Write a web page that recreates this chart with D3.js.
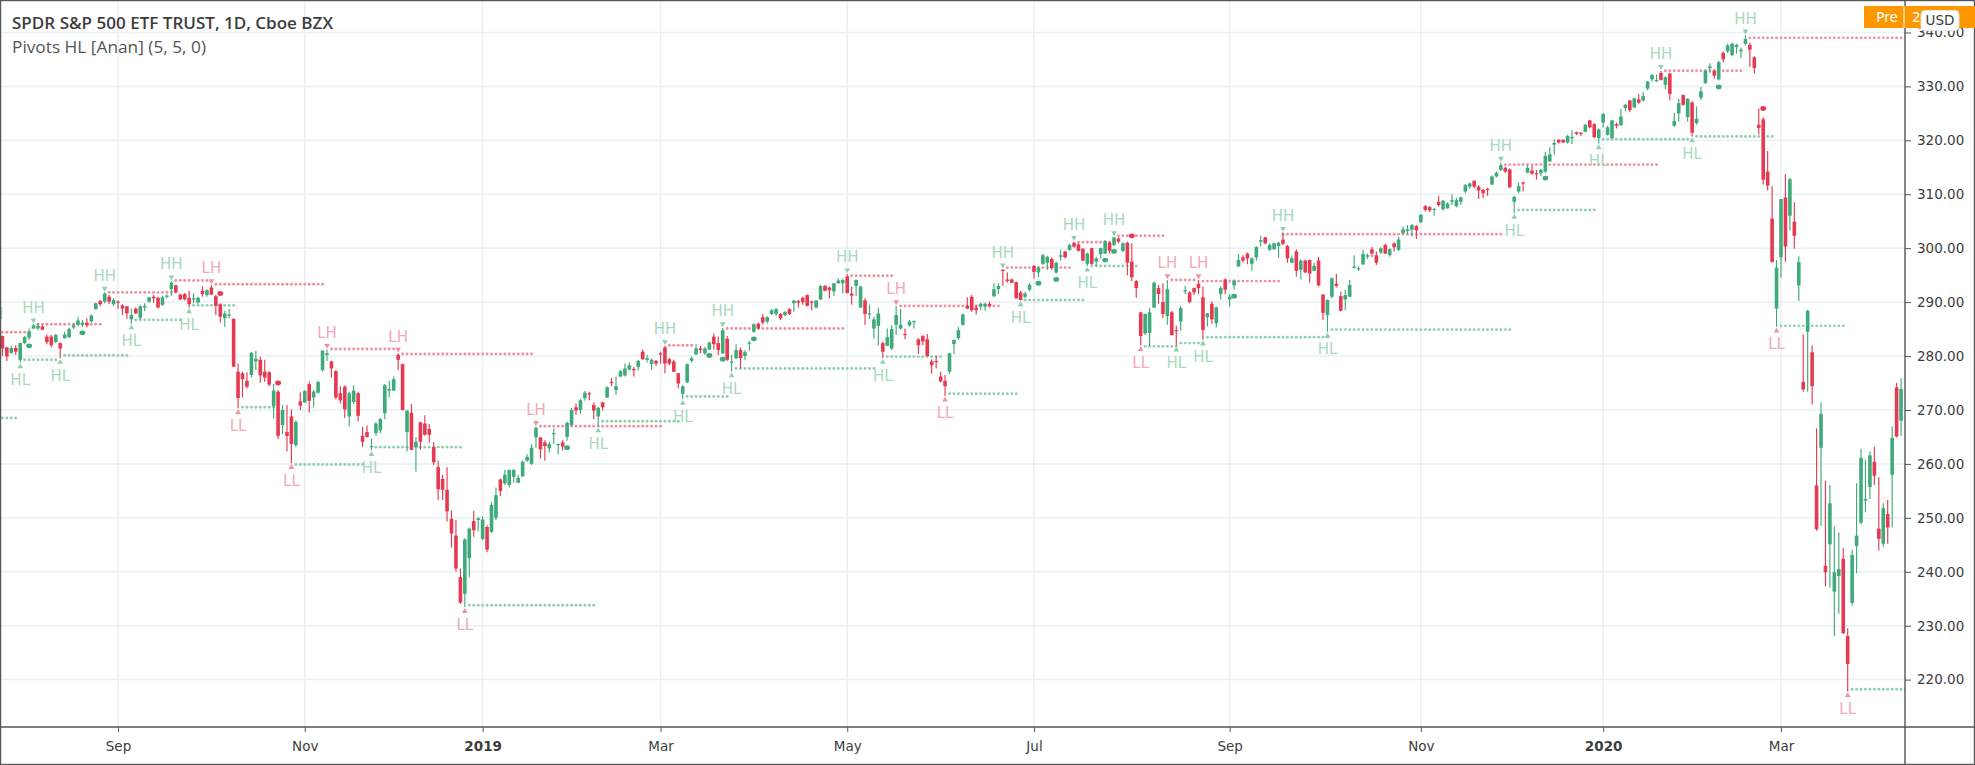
<!DOCTYPE html>
<html><head><meta charset="utf-8">
<script src="https://cdn.jsdelivr.net/npm/d3@7/dist/d3.min.js"></script>
<style>html,body{margin:0;padding:0;background:#fff}svg{display:block}</style>
</head><body><div id="c"></div>
<script>
// Each row: [open, high, low, close]
const bars2018a=[
[283.7,283.8,280.0,281.4],[281.6,281.7,279.1,279.9],[280.6,281.9,280.4,281.5],[281.5,282.0,280.2,280.8],[279.3,282.5,278.8,282.4],[282.4,283.7,282.2,283.5],[283.4,285.1,283.0,284.6],[285.1,285.9,285.0,285.7],[285.1,286.1,284.8,285.6],[285.5,285.7,284.8,284.9],
[283.6,284.0,282.2,282.6],[283.6,283.9,281.6,282.0],[282.6,284.1,282.4,283.9],[282.4,282.5,279.6,281.4],[283.3,284.5,283.2,284.0],[283.5,285.3,283.3,285.0],[285.3,286.1,285.0,285.7],[285.8,287.3,285.6,286.6],[285.8,286.7,285.4,286.2],[286.2,287.0,285.3,285.7],
[286.4,287.7,286.2,287.5],[288.7,289.9,288.6,289.8],[290.2,290.4,289.3,289.6],[290.1,291.8,289.8,291.6],[291.0,291.3,289.6,290.1],[289.6,290.7,289.3,290.4],[290.1,290.3,288.7,289.9],[289.4,289.6,287.6,288.8],[289.2,289.3,286.9,287.9],[286.8,288.8,286.0,287.6],
[288.8,289.0,287.8,287.9],[287.1,289.5,286.7,289.2],[289.0,289.8,288.3,289.3],[290.1,291.0,289.9,290.9],[291.0,291.3,289.9,290.7],[290.8,291.0,288.8,289.0],[289.5,291.2,289.3,290.9],[291.0,291.4,290.7,291.2],[292.4,293.9,291.2,293.6],[293.1,293.2,291.6,291.8],
[291.4,291.5,290.4,290.5],[291.5,291.7,290.3,290.5],[290.8,292.1,289.0,289.6],[290.5,291.6,289.8,290.7],[289.9,291.0,289.7,290.8],[292.1,292.9,291.0,291.5],[291.3,292.4,291.0,292.2],[292.7,293.2,291.3,291.4],[291.1,291.3,287.6,289.3],[289.6,289.8,286.2,287.3],
[287.0,288.4,285.4,287.9],[287.5,288.7,287.0,287.7],[286.9,287.0,278.0,278.0],[277.1,278.6,270.3,272.2]];
const bars2018b=[
[276.8,277.1,272.3,275.7],[275.4,277.0,274.0,274.3],[276.5,280.8,276.0,280.6],[279.0,281.0,277.4,279.5],[279.3,279.9,275.0,276.4],[277.1,279.3,275.2,276.0],[277.0,277.2,274.4,274.7],[270.7,274.8,268.4,273.6],[273.4,273.7,264.6,265.2],[267.2,270.9,265.5,270.0],
[265.9,270.9,262.3,265.2],[268.8,270.1,260.1,263.7],[263.5,268.1,263.1,267.8],[271.6,273.3,270.0,270.8],[271.4,273.7,271.4,273.5],[274.8,275.3,269.5,271.7],[272.3,273.7,270.5,273.4],[273.2,275.4,273.0,275.2],[277.4,281.1,277.1,281.0],[280.2,281.2,279.1,280.5],
[279.0,279.1,276.0,277.7],[277.2,277.4,272.0,272.3],[273.1,274.4,271.2,271.8],[274.3,274.6,268.5,270.1],[268.8,273.4,267.0,273.1],[271.5,274.6,271.1,273.6],[273.1,273.4,267.9,268.9],[265.2,266.9,263.1,264.1],[265.9,267.1,264.9,265.0],[263.2,264.7,262.5,263.3],
[265.7,267.7,265.2,267.5],[266.2,268.5,265.7,268.3],[269.4,274.8,268.3,274.6],[273.6,275.4,272.3,273.9],[273.6,276.2,273.5,275.7],[280.2,280.5,277.4,279.3],[278.5,278.6,269.9,270.0],[265.9,269.9,262.3,269.9],[269.5,271.1,262.6,262.6],[263.1,265.0,258.6,264.1],
[267.7,267.8,262.6,264.1],[267.5,269.0,265.2,265.4],[266.5,267.4,263.9,265.4],[263.1,264.0,259.8,260.3],[259.4,260.6,253.3,255.3],[257.2,258.0,253.3,255.2],[255.2,259.4,249.3,251.2],[249.8,251.4,244.5,247.1],[246.7,249.6,240.0,240.6],[239.0,240.6,234.0,234.3],
[235.9,246.2,233.4,246.0],[242.5,248.2,239.0,248.0],[249.4,251.3,246.5,247.7],[249.6,250.2,247.5,249.9]];
const bars2019a=[
[246.1,250.3,245.9,249.7],[248.3,248.6,243.6,244.1],[247.4,252.9,247.2,252.4],[250.0,255.6,249.6,254.2],[257.1,257.3,254.0,255.0],[256.4,258.9,256.1,258.0],[256.1,258.9,255.6,258.9],[257.6,259.0,256.5,258.9],[256.5,258.0,256.5,257.4],[257.7,260.6,257.5,260.4],
[260.6,261.8,260.4,261.3],[260.0,263.7,259.8,263.0],[264.9,266.9,262.9,266.7],[264.9,265.0,261.0,262.7],[264.0,264.4,260.6,263.3],[262.9,264.1,262.1,263.7],[265.6,266.6,263.7,265.7],[263.5,263.8,261.8,263.7],[264.0,264.4,262.5,263.2],[265.0,267.8,264.3,267.6],
[267.2,270.4,267.0,270.0],[270.5,271.2,269.1,269.9],[270.0,272.0,269.3,271.8],[272.2,273.5,271.7,273.2],[273.1,273.4,271.8,272.9],[270.9,271.4,268.3,269.9],[268.8,270.6,266.9,270.4],[271.4,271.5,269.9,270.5],[272.3,274.4,272.2,274.2],[275.2,275.9,274.4,275.1],
[273.7,276.2,272.8,274.4],[276.2,277.4,276.1,277.2],[276.4,278.6,276.2,277.7],[277.5,278.8,277.3,278.3],[277.6,278.0,276.2,277.4],[278.0,279.3,277.3,279.1],[280.8,281.2,279.3,279.4],[279.3,280.2,278.8,279.6],[278.5,279.6,277.4,279.3],[279.1,279.3,278.2,278.6],
[280.5,280.8,278.6,280.4],[281.6,281.9,276.8,278.6],[279.4,279.7,278.3,278.6],[279.0,279.3,277.0,277.1],[276.8,276.9,274.0,274.9],[273.0,274.6,272.0,274.4],[275.1,278.6,275.0,278.5],[279.1,279.9,278.8,279.6],[280.3,282.2,280.2,281.4],[281.4,281.9,280.5,281.1],
[280.5,281.7,280.2,281.4],[281.2,282.7,281.1,282.5],[283.6,284.2,281.2,282.2],[282.4,283.6,280.2,281.1]];
const bars2019b=[
[280.5,285.2,280.4,284.8],[283.2,283.7,279.1,279.3],[278.8,280.2,277.1,279.0],[279.6,282.2,279.4,281.1],[281.1,281.6,277.7,279.6],[280.0,281.1,279.3,280.7],[282.3,282.8,281.0,282.5],[284.5,286.1,284.3,285.9],[286.0,286.2,285.0,285.1],[287.2,287.8,285.8,286.2],
[286.4,287.4,286.0,287.2],[287.8,288.7,287.6,288.5],[287.8,288.9,287.4,288.7],[287.8,288.0,286.7,287.0],[287.6,288.3,287.4,288.2],[288.7,288.9,287.6,287.8],[289.8,290.4,288.2,290.3],[290.2,290.4,289.0,289.9],[290.8,291.0,289.5,290.0],[291.3,291.4,289.2,289.3],
[290.1,290.3,288.5,290.0],[289.0,290.4,288.8,290.3],[290.5,293.2,290.4,293.0],[293.0,293.2,292.0,292.1],[292.7,292.9,290.7,292.2],[292.0,293.6,291.1,293.5],[293.5,294.4,293.4,294.0],[293.5,294.4,291.6,294.1],[294.8,295.2,291.6,291.7],[291.6,292.9,289.5,291.2],
[293.0,294.2,291.1,294.1],[289.0,293.0,288.9,292.9],[290.3,290.7,285.8,287.8],[287.8,289.5,286.9,287.9],[285.1,287.3,283.2,286.8],[285.6,288.9,282.0,287.9],[282.4,282.7,279.6,280.8],[281.9,285.1,281.8,283.5],[281.4,285.7,281.1,285.0],[285.8,289.3,283.9,287.6],
[285.1,288.7,284.9,285.8],[284.1,285.1,283.1,283.9],[285.7,286.7,285.4,286.4],[286.4,286.6,285.1,286.5],[283.1,283.3,280.4,282.0],[283.7,283.9,282.0,282.7],[283.1,284.1,279.9,280.0],[279.0,279.4,276.7,278.3],[279.1,280.0,277.7,279.0],[276.2,277.1,275.1,275.3],
[275.4,276.5,272.6,274.4],[277.1,280.6,276.7,280.5],[282.2,283.0,280.4,283.0],[283.3,285.4,283.0,284.8]];
const bars2019c=[
[285.8,287.9,285.6,287.7],[289.3,290.9,288.7,288.8],[291.0,291.3,288.2,288.5],[289.0,289.5,287.7,288.5],[289.2,289.9,288.5,289.7],[289.2,289.9,288.4,289.7],[289.7,290.1,289.0,289.3],[291.1,293.5,290.9,292.4],[292.4,293.5,291.5,293.0],[296.0,296.1,293.0,295.9],
[294.2,295.5,293.6,293.9],[294.2,294.4,293.5,293.6],[293.7,293.8,290.6,290.7],[291.8,292.1,290.3,290.4],[291.0,291.9,290.7,291.6],[292.3,293.5,292.0,293.2],[296.7,296.9,294.4,295.6],[295.5,296.6,294.6,296.4],[297.1,298.9,296.9,298.7],[297.3,298.6,296.0,298.4],
[298.0,298.3,296.0,296.3],[295.5,297.5,295.3,297.3],[298.4,299.7,297.7,298.7],[299.4,299.5,298.1,298.3],[299.7,300.8,299.5,300.6],[301.0,301.2,300.1,300.3],[300.7,300.9,299.4,299.5],[299.9,300.0,297.6,297.7],[297.1,299.2,296.7,299.0],[300.0,300.1,296.9,297.1],
[297.5,298.4,296.7,298.1],[298.9,300.1,298.1,300.0],[299.0,301.5,298.9,301.3],[301.0,301.2,299.0,299.5],[300.6,302.1,300.4,302.0],[301.8,302.0,300.9,301.2],[299.5,301.1,299.3,300.9],[301.0,301.2,295.0,297.3],[297.5,300.9,293.9,294.6],[293.9,294.1,290.8,292.6],
[288.1,288.2,282.0,283.7],[284.2,287.9,283.9,287.8],[284.3,288.9,281.8,288.1],[289.0,293.8,288.9,293.6],[292.6,293.2,289.7,291.5],[290.0,293.5,287.0,287.8],[287.4,294.1,285.8,292.4],[288.1,288.4,283.8,283.9],[284.8,285.6,281.9,284.7],[286.4,289.3,284.7,288.9],
[292.0,293.0,291.5,292.2],[291.8,292.0,289.8,290.0],[292.6,292.7,291.3,291.8],[293.4,294.1,291.5,292.6]];
const bars2019d=[
[290.9,292.9,283.0,284.8],[287.2,288.0,285.5,287.9],[289.7,290.1,286.0,286.8],[286.1,289.2,285.3,289.0],[291.5,293.0,290.5,292.6],[294.2,294.4,291.5,292.3],[290.5,291.5,289.2,291.0],[293.1,294.2,292.3,294.0],[296.6,298.9,296.5,297.8],[298.3,298.7,297.3,297.7],
[299.0,299.2,297.0,298.1],[297.1,298.3,295.8,298.1],[298.3,300.4,297.7,300.2],[301.2,302.3,300.3,301.5],[302.0,302.1,300.7,300.9],[299.7,300.9,299.5,300.6],[299.8,301.0,299.7,300.9],[300.4,301.2,298.2,301.0],[301.6,302.9,300.6,300.8],[300.4,300.6,297.3,298.1],
[297.3,298.7,297.2,298.1],[299.4,299.8,294.7,295.8],[296.0,297.9,294.2,297.7],[297.7,297.9,295.4,295.5],[297.8,297.9,293.6,295.3],[295.8,297.3,295.7,296.7],[297.7,298.4,292.9,293.1],[291.4,291.5,286.7,288.0],[287.6,290.5,284.5,290.4],[291.0,294.6,290.7,294.4],
[293.4,295.2,292.7,293.0],[291.1,291.9,288.3,288.4],[290.5,292.3,288.5,291.3],[291.0,294.1,290.9,293.2],[296.4,298.7,296.2,296.6],[296.2,296.6,295.8,296.3],[297.0,299.7,296.9,298.9],[298.4,299.0,298.0,298.7],[299.8,300.2,298.3,299.0],[298.7,299.4,296.9,297.3],
[299.2,300.2,298.9,300.0],[300.6,300.8,298.9,299.0],[298.7,300.0,298.4,299.8],[300.9,301.1,299.4,300.2],[299.7,302.1,299.5,301.6],[302.8,304.0,302.6,303.5],[303.2,304.3,302.5,303.5],[303.4,304.5,302.1,304.3],[304.1,304.3,301.7,303.3],[304.8,306.3,304.7,306.2],
[307.8,308.0,306.8,307.1],[307.6,307.8,306.7,307.0],[307.2,307.4,306.0,307.3],[308.6,309.7,307.7,308.0]];
const bars2020a=[
[307.2,309.0,307.0,308.8],[307.4,308.5,307.3,308.3],[308.6,310.0,308.0,308.9],[307.8,309.3,307.6,308.9],[308.6,309.6,308.0,309.4],[310.5,311.9,310.2,311.7],[311.4,312.2,311.0,312.0],[312.5,312.6,311.1,311.4],[311.4,311.7,309.1,310.7],[310.8,311.0,309.3,310.2],
[311.0,311.2,309.7,310.8],[311.8,313.5,311.7,313.3],[313.3,314.2,313.1,314.0],[314.5,315.9,314.3,315.4],[314.9,315.1,314.0,314.2],[314.6,314.8,311.1,311.3],[308.6,309.7,306.5,309.5],[310.5,312.2,310.2,311.5],[312.2,312.3,310.5,312.0],[314.0,315.4,313.9,314.9],
[314.4,315.3,313.6,313.8],[313.9,314.5,312.7,313.7],[313.9,314.7,313.4,314.5],[314.2,317.9,314.0,317.1],[316.1,318.7,316.0,317.4],[319.2,320.2,317.3,319.5],[320.1,320.2,319.4,319.6],[320.1,320.2,319.5,319.6],[319.6,321.0,319.4,320.8],[320.4,321.9,319.3,320.6],
[321.5,321.6,321.0,321.2],[321.4,321.5,320.8,321.2],[321.6,323.0,321.5,322.9],[323.7,323.8,322.2,322.4],[323.0,323.2,320.4,320.6],[320.4,322.2,319.4,322.0],[323.3,325.0,322.4,324.9],[321.0,322.7,320.9,322.4],[320.4,323.8,320.3,323.7],[323.0,323.3,322.2,322.7],
[322.8,325.8,322.7,324.4],[326.0,326.8,325.4,326.6],[327.4,327.5,325.2,325.6],[326.1,327.9,326.0,327.8],[327.6,328.6,326.8,327.0],[327.4,328.9,327.2,328.2],[329.6,331.0,329.3,330.9],[331.3,332.4,330.9,332.1],[331.0,332.2,330.8,331.2],[332.5,332.9,331.1,331.2],
[330.3,331.9,329.5,331.7],[332.4,332.5,327.4,328.6],[322.7,325.1,322.5,323.6],[325.0,327.7,323.5,326.9],[328.4,328.5,326.4,326.6],[324.3,327.8,323.5,327.7]];
const bars2020b=[
[327.0,327.3,320.7,321.4],[323.2,326.3,322.9,324.0],[327.9,329.9,327.5,329.1],[330.6,333.1,330.5,332.9],[333.4,334.3,332.5,333.7],[332.9,333.1,331.4,332.0],[331.3,334.7,331.1,334.5],[336.2,336.5,334.5,335.0],[336.5,337.9,336.2,337.6],[335.8,338.1,335.6,337.9],
[337.3,337.9,336.1,337.7],[336.5,337.2,335.2,336.8],[337.9,339.5,337.6,338.8],[337.7,338.1,333.6,336.8],[335.4,335.6,332.4,333.4],[322.9,325.9,321.1,322.3],[323.9,324.3,311.8,312.7],[314.2,318.0,310.7,311.6],[305.5,311.5,297.4,297.4],[288.8,297.8,285.4,296.4],
[298.3,309.1,294.5,309.1],[309.4,313.8,297.5,300.3],[306.0,313.0,303.3,312.8],[304.9,308.5,299.9,302.3],[293.1,298.5,290.2,297.4],[275.2,284.0,273.4,273.8],[284.5,288.6,273.4,288.4],[280.7,282.0,271.0,274.4],[256.0,266.6,247.6,247.9],[263.0,271.4,248.5,269.3],
[241.1,256.9,237.3,239.9],[245.1,256.1,237.1,252.7],[236.3,248.4,228.1,239.9],[239.2,247.3,232.2,240.5],[242.4,244.4,228.4,228.6],[228.1,229.5,217.8,222.9],[234.2,244.1,233.7,243.1],[244.8,256.4,239.7,246.7],[249.1,262.8,248.8,261.1],[253.2,260.8,251.0,253.5],
[255.7,262.3,253.5,261.6],[260.4,263.2,256.1,257.8],[248.0,257.5,243.9,246.1],[245.2,252.7,244.6,251.8],[250.7,253.3,245.2,248.2],[258.0,267.0,248.2,264.8],[274.2,275.0,264.9,265.1],[268.0,275.9,265.2,273.9]];
const candles=[...bars2018a,...bars2018b,...bars2019a,...bars2019b,...bars2019c,...bars2019d,...bars2020a,...bars2020b];

// dotted levels: [first bar, last bar, price]
const resistanceLevels=[[-1,5,284.4],[8,22,285.9],[24,38,291.8],[39,46,294],[48,72,293.3],[74,88,281.3],[90,119,280.4],[121,148,267],[150,155,282],[163,189,285.1],[191,200,294.9],[202,224,289.3],[226,240,296.4],[242,250,301.1],[251,261,302.3],[263,268,294.1],[270,287,293.9],[288,337,302.6],[338,372,315.5],[374,391,332.9],[393,429,339]];
const supportLevels=[[-1,3,268.5],[5,12,279.3],[14,28,280.1],[30,40,286.7],[43,52,289.4],[54,61,270.5],[66,81,259.9],[84,103,263.1],[105,133,233.8],[135,152,267.9],[154,163,272.5],[165,196,277.7],[199,211,279.9],[213,228,273],[230,243,290.4],[245,255,296.7],[257,264,281.8],[265,270,282.4],[271,298,283.5],[299,339,284.9],[341,358,307.1],[360,379,320.2],[381,398,320.7],[400,414,285.6],[416,429,218.2]];

// pivot labels: [bar, text]
const pivotLabels=[[4,"HL"],[7,"HH"],[13,"HL"],[23,"HH"],[29,"HL"],[38,"HH"],[42,"HL"],[47,"LH"],[53,"LL"],[65,"LL"],[73,"LH"],[83,"HL"],[89,"LH"],[104,"LL"],[120,"LH"],[134,"HL"],[149,"HH"],[153,"HL"],[162,"HH"],[164,"HL"],[190,"HH"],[198,"HL"],[201,"LH"],[212,"LL"],[225,"HH"],[229,"HL"],[241,"HH"],[244,"HL"],[250,"HH"],[256,"LL"],[262,"LH"],[264,"HL"],[269,"LH"],[270,"HL"],[288,"HH"],[298,"HL"],[337,"HH"],[340,"HL"],[359,"HL"],[373,"HH"],[380,"HL"],[392,"HH"],[399,"LL"],[415,"LL"]];
// round markers: [bar, price]
const greenMarkers=[[6,281.9],[18,284.3],[127,263],[159,280.1],[162,279.4],[169,283.2],[233,293.5],[237,294.2],[248,297.8],[250,299.4],[277,291.1],[347,313],[386,329.9]];
const redMarkers=[[49,291.6],[62,275],[254,302.3],[396,325.9]];

const priceTicks=[220,230,240,250,260,270,280,290,300,310,320,330,340];
const timeTickBars=[26,68,108,148,190,232,276,319,360,400];
const timeTickLabels=["Sep","Nov","2019","Mar","May","Jul","Sep","Nov","2020","Mar"];
const titleText="SPDR S&P 500 ETF TRUST, 1D, Cboe BZX";
const subtitleText="Pivots HL [Anan] (5, 5, 0)";

const W=1975,H=765,axisX=1905,axisY=727;
const GREEN="#3fab7a",RED="#e53a51",GREEN_DOT="#8fd0ad",RED_DOT="#f090a0",GREEN_TXT="#a9d9bd",RED_TXT="#f2aab6",GRID="#e9eff3",INK="#3d3d3d",AXIS="#555";

const svg=d3.select("#c").append("svg").attr("width",W).attr("height",H).style("font-family","'DejaVu Sans',sans-serif");
svg.append("rect").attr("width",W).attr("height",H).attr("fill","#fff");
svg.append("clipPath").attr("id","plot").append("rect").attr("width",axisX).attr("height",axisY);

const x=d3.scaleLinear().domain([0,427]).range([2.4,2.4+427*4.4465]);
const y=d3.scaleLinear().domain([330,220]).range([86.4,679.6]);

const grid=svg.append("g").attr("clip-path","url(#plot)");
grid.selectAll("line.h").data(priceTicks).join("line").attr("class","h").attr("x1",0).attr("x2",axisX).attr("y1",d=>y(d)).attr("y2",d=>y(d)).attr("stroke",GRID).attr("stroke-width",1.5);
grid.selectAll("line.v").data(timeTickBars).join("line").attr("class","v").attr("y1",0).attr("y2",axisY).attr("x1",d=>x(d)).attr("x2",d=>x(d)).attr("stroke",GRID).attr("stroke-width",1.5);

const plot=svg.append("g").attr("clip-path","url(#plot)");
function dotted(levels,color){
  const pts=levels.flatMap(([a,b,p])=>d3.range(a,b+1).map(k=>[k,p]));
  plot.append("g").selectAll("circle").data(pts).join("circle").attr("cx",d=>x(d[0])).attr("cy",d=>y(d[1])).attr("r",1.45).attr("fill",color);
}
dotted(resistanceLevels,RED_DOT);
dotted(supportLevels,GREEN_DOT);

// pivot labels + small triangles
const tri=d3.symbol().type(d3.symbolTriangle).size(14);
const pv=plot.append("g").selectAll("g").data(pivotLabels).join("g");
const isHigh=d=>d[1][1]==="H";
const pvY=d=>isHigh(d)?y(candles[d[0]][1]):y(candles[d[0]][2]);
const isGreen=d=>d[1]==="HH"||d[1]==="HL";
pv.append("path").attr("d",tri).attr("fill",d=>isGreen(d)?GREEN_DOT:RED_DOT)
  .attr("transform",d=>`translate(${x(d[0])},${pvY(d)+(isHigh(d)?-4:4)}) rotate(${isHigh(d)?180:0})`);
pv.append("text").attr("x",d=>x(d[0])).attr("y",d=>pvY(d)+(isHigh(d)?-17:17)).attr("dy","0.36em").attr("text-anchor","middle")
  .attr("font-size",15).attr("fill",d=>isGreen(d)?GREEN_TXT:RED_TXT).text(d=>d[1]);
plot.append("text").attr("x",x(-2.3)).attr("y",314).attr("dy","0.36em").attr("text-anchor","middle").attr("font-size",15).attr("fill",GREEN_TXT).text("HH");

// candles
const cg=plot.append("g").selectAll("g").data(candles).join("g");
const col=d=>d[3]>=d[0]?GREEN:RED;
cg.append("line").attr("x1",(d,i)=>x(i)).attr("x2",(d,i)=>x(i)).attr("y1",d=>y(d[1])).attr("y2",d=>y(d[2])).attr("stroke",col).attr("stroke-width",1.15);
cg.append("rect").attr("x",(d,i)=>x(i)-1.8).attr("width",3.6).attr("y",d=>y(Math.max(d[0],d[3]))).attr("height",d=>Math.max(1.2,Math.abs(y(d[0])-y(d[3])))).attr("fill",col);

plot.append("g").selectAll("ellipse").data(greenMarkers).join("ellipse").attr("cx",d=>x(d[0])).attr("cy",d=>y(d[1])).attr("rx",2.9).attr("ry",2.4).attr("fill",GREEN);
plot.append("g").selectAll("ellipse").data(redMarkers).join("ellipse").attr("cx",d=>x(d[0])).attr("cy",d=>y(d[1])).attr("rx",2.9).attr("ry",2.4).attr("fill",RED);

// frame
const frame=svg.append("g").attr("fill","none").attr("stroke",AXIS);
frame.append("rect").attr("x",0.5).attr("y",0.5).attr("width",W-1).attr("height",H-1).attr("stroke-width",1.4);

// axes
const yAxis=svg.append("g").attr("transform",`translate(${axisX},0)`).call(d3.axisRight(y).tickValues(priceTicks).tickFormat(d=>d.toFixed(2)).tickSize(6).tickPadding(6));
const xAxis=svg.append("g").attr("transform",`translate(0,${axisY})`).call(d3.axisBottom(x).tickValues(timeTickBars).tickFormat((d,i)=>timeTickLabels[i]).tickSize(5).tickPadding(9));
[yAxis,xAxis].forEach(a=>{a.selectAll("text").attr("font-size",13.5).attr("fill",INK).attr("font-family","'DejaVu Sans',sans-serif");a.selectAll("line").attr("stroke",AXIS);a.select(".domain").remove();});
xAxis.selectAll("text").filter((d,i)=>/^20/.test(timeTickLabels[i])).attr("font-weight","bold");
svg.append("line").attr("x1",axisX).attr("x2",axisX).attr("y1",0).attr("y2",H).attr("stroke",AXIS).attr("stroke-width",1.4);
svg.append("line").attr("x1",0).attr("x2",W).attr("y1",axisY).attr("y2",axisY).attr("stroke",AXIS).attr("stroke-width",1.4);

// titles
svg.append("text").attr("x",12).attr("y",29).attr("font-family","'Open Sans',sans-serif").attr("font-size",17).attr("font-weight",600).attr("fill",INK).attr("textLength",321).attr("lengthAdjust","spacingAndGlyphs").text(titleText);
svg.append("text").attr("x",12).attr("y",52.5).attr("font-family","'Open Sans',sans-serif").attr("font-size",17).attr("fill","#555").attr("textLength",194).attr("lengthAdjust","spacingAndGlyphs").text(subtitleText);

// pre-market tag, currency
svg.append("rect").attr("x",1864).attr("y",6).attr("width",111).attr("height",22).attr("fill","#ff9800");
svg.append("line").attr("x1",1904).attr("x2",1904).attr("y1",6).attr("y2",28).attr("stroke","#fff").attr("stroke-width",1);
svg.append("text").attr("x",1887).attr("y",17).attr("dy","0.36em").attr("text-anchor","middle").attr("font-size",13.5).attr("fill","#fff").text("Pre");
svg.append("text").attr("x",1912).attr("y",17).attr("dy","0.36em").attr("font-size",13.5).attr("fill","#fff").text("2");
svg.append("rect").attr("x",1921).attr("y",10.5).attr("width",38).attr("height",20).attr("rx",4).attr("fill","#fff").attr("stroke","#e6e6e6");
svg.append("text").attr("x",1940).attr("y",20.5).attr("dy","0.36em").attr("text-anchor","middle").attr("font-size",13.5).attr("fill",INK).text("USD");
</script></body></html>
